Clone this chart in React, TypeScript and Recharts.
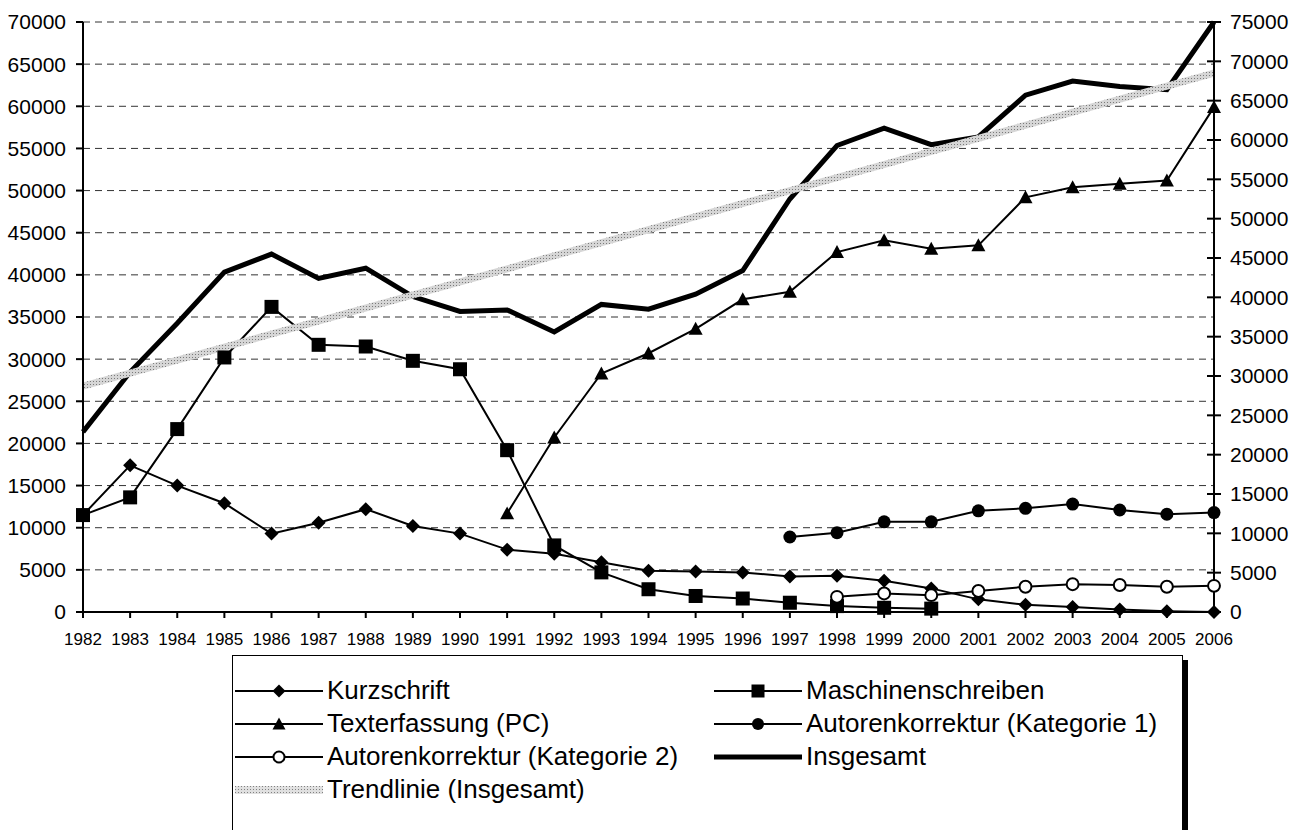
import React from "react";
import { CartesianGrid, Legend, Line, LineChart, XAxis, YAxis } from "recharts";

const years = [
  "1982", "1983", "1984", "1985", "1986", "1987", "1988", "1989", "1990", "1991", "1992", "1993",
  "1994", "1995", "1996", "1997", "1998", "1999", "2000", "2001", "2002", "2003", "2004", "2005", "2006",
];

const kurzschrift = [
  11500, 17400, 15000, 12900, 9300, 10600, 12200, 10200, 9300, 7400, 6900, 5900,
  4900, 4800, 4700, 4200, 4300, 3700, 2800, 1500, 850, 600, 300, 100, 0,
];
const maschinenschreiben = [
  11500, 13600, 21700, 30200, 36200, 31700, 31500, 29800, 28800, 19200, 7900, 4700,
  2700, 1900, 1600, 1100, 700, 500, 400, null, null, null, null, null, null,
];
const texterfassung = [
  null, null, null, null, null, null, null, null, null, 11700, 20700, 28300,
  30700, 33600, 37100, 38000, 42700, 44100, 43100, 43500, 49200, 50400, 50800, 51200, 59900,
];
const autoren1 = [
  null, null, null, null, null, null, null, null, null, null, null, null,
  null, null, null, 8900, 9400, 10700, 10700, 12000, 12300, 12800, 12100, 11600, 11800,
];
const autoren2 = [
  null, null, null, null, null, null, null, null, null, null, null, null,
  null, null, null, null, 1800, 2200, 2000, 2500, 3000, 3300, 3200, 3000, 3100,
];
const insgesamt = [
  22900, 30500, 36700, 43200, 45500, 42400, 43700, 40100, 38200, 38400, 35600, 39100,
  38500, 40400, 43400, 52500, 59300, 61500, 59400, 60400, 65700, 67500, 66800, 66400, 75000,
];
// trend line end points (right axis)
const trendlinie = [
  28700, null, null, null, null, null, null, null, null, null, null, null,
  null, null, null, null, null, null, null, null, null, null, null, null, 68500,
];

const leftTicks = [0, 5000, 10000, 15000, 20000, 25000, 30000, 35000, 40000, 45000, 50000, 55000, 60000, 65000, 70000];
const rightTicks = [0, 5000, 10000, 15000, 20000, 25000, 30000, 35000, 40000, 45000, 50000, 55000, 60000, 65000, 70000, 75000];

const data = years.map((year, i) => ({
  year,
  kurz: kurzschrift[i],
  masch: maschinenschreiben[i],
  text: texterfassung[i],
  auto1: autoren1[i],
  auto2: autoren2[i],
  total: insgesamt[i],
  trend: trendlinie[i],
}));

type Shape = "diamond" | "square" | "triangle" | "circle" | "open";

function Marker({ shape, cx, cy, s = 7 }: { shape: Shape; cx: number; cy: number; s?: number }) {
  if (shape === "diamond")
    return <path d={`M${cx},${cy - s}L${cx + s},${cy}L${cx},${cy + s}L${cx - s},${cy}Z`} fill="#000" />;
  if (shape === "square") return <rect x={cx - s} y={cy - s} width={2 * s} height={2 * s} fill="#000" />;
  if (shape === "triangle")
    return <path d={`M${cx},${cy - s}L${cx + s},${cy + s * 0.85}L${cx - s},${cy + s * 0.85}Z`} fill="#000" />;
  if (shape === "circle") return <circle cx={cx} cy={cy} r={s * 0.93} fill="#000" />;
  return <circle cx={cx} cy={cy} r={s * 0.85} fill="#fff" stroke="#000" strokeWidth={2} />;
}

const dotFor = (shape: Shape) => (props: any) => {
  const { cx, cy, index, value } = props;
  if (value == null || cx == null || cy == null) return <g key={`${shape}-${index}`} />;
  return (
    <g key={`${shape}-${index}`}>
      <Marker shape={shape} cx={cx} cy={cy} />
    </g>
  );
};

const RightTick = (props: any) => {
  const { x, y, payload } = props;
  const ax = x - 16;
  return (
    <g>
      <line x1={ax - 7} x2={ax + 7} y1={y} y2={y} stroke="#000" strokeWidth={2} />
      <text x={x} y={y} dy="0.355em" fontSize={21} fill="#000" textAnchor="start">
        {payload.value}
      </text>
    </g>
  );
};

const legendItems: { label: string; shape?: Shape; kind: "thin" | "thick" | "trend" }[] = [
  { label: "Kurzschrift", shape: "diamond", kind: "thin" },
  { label: "Maschinenschreiben", shape: "square", kind: "thin" },
  { label: "Texterfassung (PC)", shape: "triangle", kind: "thin" },
  { label: "Autorenkorrektur (Kategorie 1)", shape: "circle", kind: "thin" },
  { label: "Autorenkorrektur (Kategorie 2)", shape: "open", kind: "thin" },
  { label: "Insgesamt", kind: "thick" },
  { label: "Trendlinie (Insgesamt)", kind: "trend" },
];

function LegendBox() {
  return (
    <div
      style={{
        boxSizing: "border-box",
        width: 951,
        height: 190,
        border: "1.5px solid #000",
        boxShadow: "5px 5px 0 #000",
        background: "#fff",
        padding: "18px 0 0 2px",
        display: "grid",
        gridTemplateColumns: "479px 470px",
        gridAutoRows: "33px",
        fontSize: 26,
        lineHeight: "33px",
        color: "#000",
      }}
    >
      {legendItems.map((it) => (
        <div key={it.label} style={{ display: "flex", alignItems: "center", height: 33 }}>
          <svg width={88} height={20} style={{ flex: "none" }}>
            <defs>
              <pattern id="legTrendPat" width="3" height="3" patternUnits="userSpaceOnUse">
                <rect width="3" height="3" fill="#e0e0e0" />
                <rect width="1" height="1" fill="#808080" />
              </pattern>
            </defs>
            {it.kind === "thin" && <line x1={0} x2={88} y1={10} y2={10} stroke="#000" strokeWidth={2} />}
            {it.kind === "thick" && <line x1={0} x2={88} y1={10} y2={10} stroke="#000" strokeWidth={5} />}
            {it.kind === "trend" && <rect x={0} y={6} width={88} height={8} fill="url(#legTrendPat)" />}
            {it.shape && <Marker shape={it.shape} cx={44} cy={10} s={6.5} />}
          </svg>
          <span style={{ marginLeft: 4, whiteSpace: "nowrap" }}>{it.label}</span>
        </div>
      ))}
    </div>
  );
}

export default function App() {
  return (
    <div
      style={{
        position: "absolute",
        left: 0,
        top: 0,
        width: 1303,
        height: 830,
        overflow: "hidden",
        background: "#fff",
        fontFamily: "'Liberation Sans', Arial, sans-serif",
      }}
    >
      <LineChart width={1303} height={830} data={data} margin={{ top: 22, right: 0, bottom: 188, left: 0 }}>
        <defs>
          <pattern id="trendPat" width="3" height="3" patternUnits="userSpaceOnUse">
            <rect width="3" height="3" fill="#d6d6d6" />
            <rect width="1" height="1" fill="#7a7a7a" />
          </pattern>
        </defs>
        <CartesianGrid yAxisId="left" horizontal vertical={false} stroke="#333" strokeDasharray="7 5" />
        <XAxis
          dataKey="year"
          interval={0}
          height={30}
          tickSize={6}
          tickMargin={15}
          axisLine={{ stroke: "#000", strokeWidth: 2 }}
          tickLine={{ stroke: "#000", strokeWidth: 2 }}
          tick={{ fontSize: 17, fill: "#000" }}
        />
        <YAxis
          yAxisId="left"
          width={83}
          domain={[0, 70000]}
          ticks={leftTicks}
          interval={0}
          tickSize={7}
          tickMargin={10}
          axisLine={{ stroke: "#000", strokeWidth: 2 }}
          tickLine={{ stroke: "#000", strokeWidth: 2 }}
          tick={{ fontSize: 21, fill: "#000" }}
        />
        <YAxis
          yAxisId="right"
          orientation="right"
          width={89}
          domain={[0, 75000]}
          ticks={rightTicks}
          interval={0}
          tickSize={7}
          tickMargin={9}
          axisLine={{ stroke: "#000", strokeWidth: 2 }}
          tickLine={false}
          tick={<RightTick />}
        />
        <Line yAxisId="left" dataKey="kurz" stroke="#000" strokeWidth={2} dot={dotFor("diamond")} isAnimationActive={false} />
        <Line yAxisId="left" dataKey="masch" stroke="#000" strokeWidth={2} dot={dotFor("square")} isAnimationActive={false} />
        <Line yAxisId="left" dataKey="text" stroke="#000" strokeWidth={2} dot={dotFor("triangle")} isAnimationActive={false} />
        <Line yAxisId="left" dataKey="auto1" stroke="#000" strokeWidth={2} dot={dotFor("circle")} isAnimationActive={false} />
        <Line yAxisId="left" dataKey="auto2" stroke="#000" strokeWidth={2} dot={dotFor("open")} isAnimationActive={false} />
        <Line yAxisId="right" dataKey="total" stroke="#000" strokeWidth={5} dot={false} isAnimationActive={false} />
        <Line
          yAxisId="right"
          dataKey="trend"
          stroke="url(#trendPat)"
          strokeWidth={7}
          dot={false}
          connectNulls
          isAnimationActive={false}
        />
        <Legend
          layout="vertical"
          align="center"
          verticalAlign="middle"
          wrapperStyle={{ left: 232, top: 655, width: 951, height: 190 }}
          content={() => <LegendBox />}
        />
      </LineChart>
    </div>
  );
}
